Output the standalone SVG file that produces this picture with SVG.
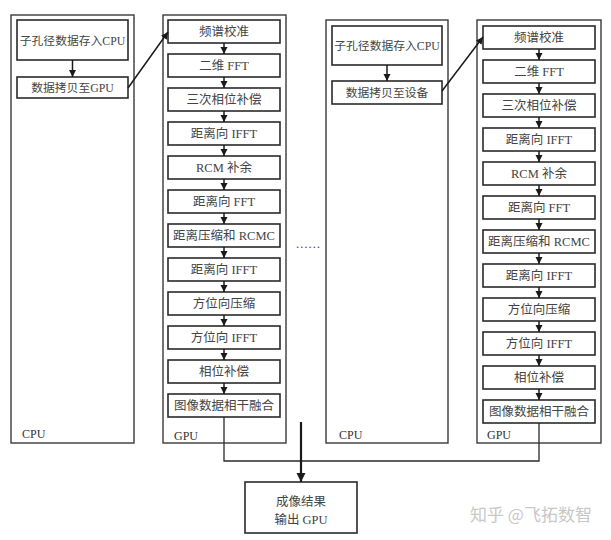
<svg xmlns="http://www.w3.org/2000/svg" width="611" height="540" viewBox="0 0 611 540">
<style>
.cont{fill:none;stroke:#3a3a3a;stroke-width:1.4}
.box{fill:#fff;stroke:#2a2a2a;stroke-width:1.6}
.t{font-family:"Liberation Serif","Noto Sans CJK SC",serif;font-size:12.5px;fill:#444;text-anchor:middle}
.s{font-size:11.8px}
.lbl{font-family:"Liberation Serif","Noto Sans CJK SC",serif;font-size:12px;fill:#333}
.ln{fill:none;stroke:#2a2a2a;stroke-width:1.3}
.ar{fill:none;stroke:#1a1a1a;stroke-width:1.5;marker-end:url(#ah)}
</style>
<defs>
<marker id="ah" markerUnits="userSpaceOnUse" markerWidth="8" markerHeight="8" refX="7" refY="4" orient="auto"><path d="M0,0.5 L7,4 L0,7.5 Z" fill="#1a1a1a"/></marker>
<marker id="ahb" markerUnits="userSpaceOnUse" markerWidth="10" markerHeight="10" refX="9" refY="5" orient="auto"><path d="M0,0.5 L9,5 L0,9.5 Z" fill="#1a1a1a"/></marker>
</defs>
<rect width="611" height="540" fill="#fff"/>

<g id="cpu1">
<rect class="cont" x="11" y="15" width="123" height="428"/>
<text class="lbl" x="22" y="438">CPU</text>
</g>
<g id="cpu1-store"><rect class="box" x="17" y="20" width="111" height="40"/><text class="t s" x="72.5" y="45">子孔径数据存入CPU</text></g>
<g id="cpu1-copy"><rect class="box" x="17" y="77" width="111" height="21"/><text class="t s" x="72.5" y="92">数据拷贝至GPU</text></g>

<g id="gpu1">
<rect class="cont" x="163" y="15" width="123" height="428"/>
<text class="lbl" x="174" y="440">GPU</text>
</g>
<g id="g1b1"><rect class="box" x="168" y="20" width="112" height="23"/><text class="t" x="224" y="36">频谱校准</text></g>
<g id="g1b2"><rect class="box" x="168" y="54" width="112" height="23"/><text class="t" x="224" y="70">二维 FFT</text></g>
<g id="g1b3"><rect class="box" x="168" y="88" width="112" height="23"/><text class="t" x="224" y="104">三次相位补偿</text></g>
<g id="g1b4"><rect class="box" x="168" y="122" width="112" height="23"/><text class="t" x="224" y="138">距离向 IFFT</text></g>
<g id="g1b5"><rect class="box" x="168" y="156" width="112" height="23"/><text class="t" x="224" y="172">RCM 补余</text></g>
<g id="g1b6"><rect class="box" x="168" y="190" width="112" height="23"/><text class="t" x="224" y="206">距离向 FFT</text></g>
<g id="g1b7"><rect class="box" x="168" y="224" width="112" height="23"/><text class="t" x="224" y="240">距离压缩和 RCMC</text></g>
<g id="g1b8"><rect class="box" x="168" y="258" width="112" height="23"/><text class="t" x="224" y="274">距离向 IFFT</text></g>
<g id="g1b9"><rect class="box" x="168" y="292" width="112" height="23"/><text class="t" x="224" y="308">方位向压缩</text></g>
<g id="g1b10"><rect class="box" x="168" y="326" width="112" height="23"/><text class="t" x="224" y="342">方位向 IFFT</text></g>
<g id="g1b11"><rect class="box" x="168" y="360" width="112" height="23"/><text class="t" x="224" y="376">相位补偿</text></g>
<g id="g1b12"><rect class="box" x="168" y="394" width="112" height="23"/><text class="t" x="224" y="410">图像数据相干融合</text></g>

<g id="cpu2">
<rect class="cont" x="326" y="20" width="122" height="423"/>
<text class="lbl" x="339" y="439">CPU</text>
</g>
<g id="cpu2-store"><rect class="box" x="332" y="26" width="110" height="39"/><text class="t s" x="387" y="50">子孔径数据存入CPU</text></g>
<g id="cpu2-copy"><rect class="box" x="332" y="81" width="110" height="23"/><text class="t s" x="387" y="97">数据拷贝至设备</text></g>

<g id="gpu2">
<rect class="cont" x="477" y="20" width="124" height="423"/>
<text class="lbl" x="487" y="439">GPU</text>
</g>
<g id="g2b1"><rect class="box" x="483" y="26" width="112" height="23"/><text class="t" x="539" y="42">频谱校准</text></g>
<g id="g2b2"><rect class="box" x="483" y="60" width="112" height="23"/><text class="t" x="539" y="76">二维 FFT</text></g>
<g id="g2b3"><rect class="box" x="483" y="94" width="112" height="23"/><text class="t" x="539" y="110">三次相位补偿</text></g>
<g id="g2b4"><rect class="box" x="483" y="128" width="112" height="23"/><text class="t" x="539" y="144">距离向 IFFT</text></g>
<g id="g2b5"><rect class="box" x="483" y="162" width="112" height="23"/><text class="t" x="539" y="178">RCM 补余</text></g>
<g id="g2b6"><rect class="box" x="483" y="196" width="112" height="23"/><text class="t" x="539" y="212">距离向 FFT</text></g>
<g id="g2b7"><rect class="box" x="483" y="230" width="112" height="23"/><text class="t" x="539" y="246">距离压缩和 RCMC</text></g>
<g id="g2b8"><rect class="box" x="483" y="264" width="112" height="23"/><text class="t" x="539" y="280">距离向 IFFT</text></g>
<g id="g2b9"><rect class="box" x="483" y="298" width="112" height="23"/><text class="t" x="539" y="314">方位向压缩</text></g>
<g id="g2b10"><rect class="box" x="483" y="332" width="112" height="23"/><text class="t" x="539" y="348">方位向 IFFT</text></g>
<g id="g2b11"><rect class="box" x="483" y="366" width="112" height="23"/><text class="t" x="539" y="382">相位补偿</text></g>
<g id="g2b12"><rect class="box" x="483" y="400" width="112" height="23"/><text class="t" x="539" y="416">图像数据相干融合</text></g>

<g id="output"><rect class="box" x="245" y="482" width="112" height="51"/><text class="t" x="301" y="506">成像结果</text><text class="t" x="301" y="524">输出 GPU</text></g>

<g id="ellipsis"><text class="t" x="308" y="248">……</text></g>

<g id="connectors">
<line class="ar" x1="72.5" y1="60" x2="72.5" y2="77"/>
<line class="ar" x1="128" y1="88" x2="168" y2="32"/>
<line class="ar" x1="224" y1="43" x2="224" y2="54"/>
<line class="ar" x1="224" y1="77" x2="224" y2="88"/>
<line class="ar" x1="224" y1="111" x2="224" y2="122"/>
<line class="ar" x1="224" y1="145" x2="224" y2="156"/>
<line class="ar" x1="224" y1="179" x2="224" y2="190"/>
<line class="ar" x1="224" y1="213" x2="224" y2="224"/>
<line class="ar" x1="224" y1="247" x2="224" y2="258"/>
<line class="ar" x1="224" y1="281" x2="224" y2="292"/>
<line class="ar" x1="224" y1="315" x2="224" y2="326"/>
<line class="ar" x1="224" y1="349" x2="224" y2="360"/>
<line class="ar" x1="224" y1="383" x2="224" y2="394"/>
<line class="ar" x1="387" y1="65" x2="387" y2="81"/>
<line class="ar" x1="442" y1="91" x2="483" y2="37"/>
<line class="ar" x1="539" y1="49" x2="539" y2="60"/>
<line class="ar" x1="539" y1="83" x2="539" y2="94"/>
<line class="ar" x1="539" y1="117" x2="539" y2="128"/>
<line class="ar" x1="539" y1="151" x2="539" y2="162"/>
<line class="ar" x1="539" y1="185" x2="539" y2="196"/>
<line class="ar" x1="539" y1="219" x2="539" y2="230"/>
<line class="ar" x1="539" y1="253" x2="539" y2="264"/>
<line class="ar" x1="539" y1="287" x2="539" y2="298"/>
<line class="ar" x1="539" y1="321" x2="539" y2="332"/>
<line class="ar" x1="539" y1="355" x2="539" y2="366"/>
<line class="ar" x1="539" y1="389" x2="539" y2="400"/>
<polyline class="ln" points="224,417 224,461 539,461 539,423"/>
<line x1="301" y1="422" x2="301" y2="482" stroke="#1a1a1a" stroke-width="2.2" marker-end="url(#ahb)"/>
</g>

<text x="531" y="521" font-family="'Noto Sans CJK SC',sans-serif" font-size="17" fill="#c8c8c8" text-anchor="middle">知乎 @飞拓数智</text>
</svg>
